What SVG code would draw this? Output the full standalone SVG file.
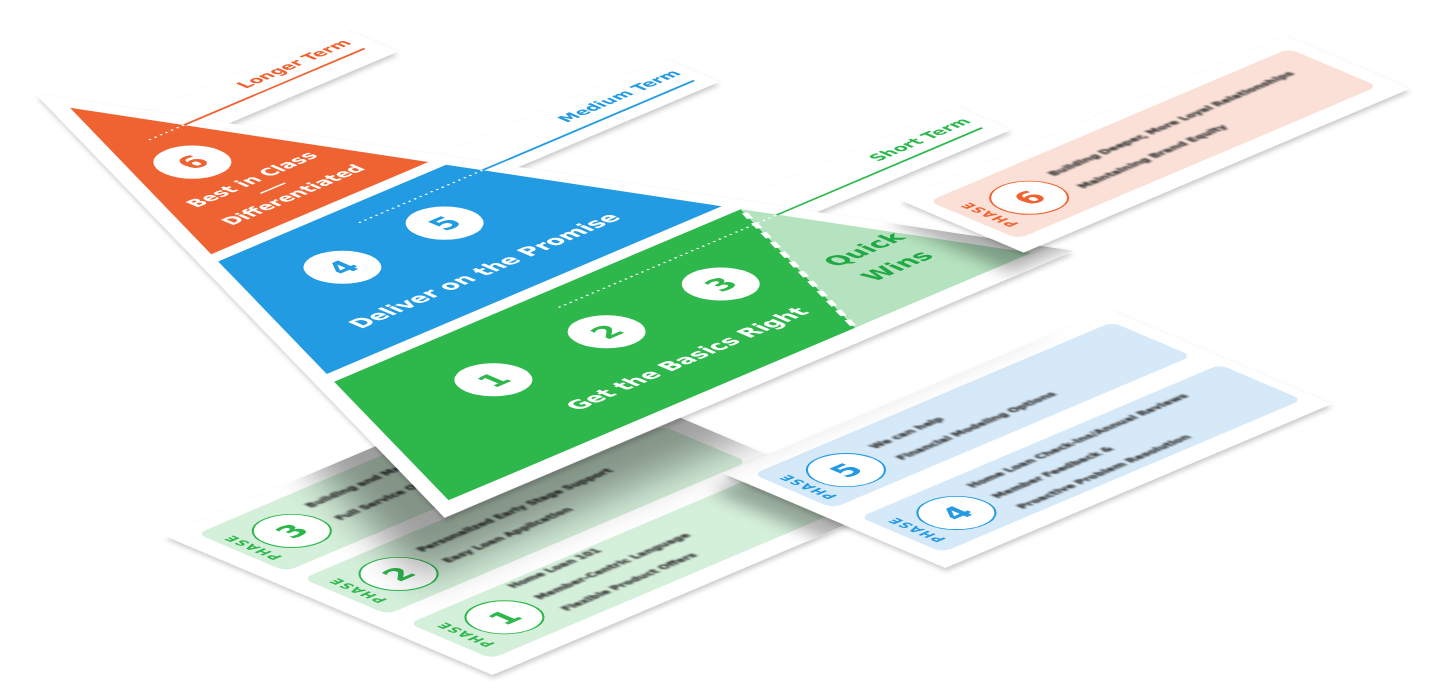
<svg xmlns="http://www.w3.org/2000/svg" width="1440" height="700" viewBox="0 0 1440 700">
<defs>
<style>
.f{font-family:"DejaVu Sans","Liberation Sans",sans-serif;font-weight:700}
.w{fill:#fff}
.lbl{font-size:16.5px;text-anchor:end}
.big{font-size:22px;text-anchor:middle;fill:#fff}
.mid{font-size:18.5px;text-anchor:middle;fill:#fff}
.num{font-size:30px;text-anchor:middle}
.ph{font-size:13.5px;letter-spacing:1.2px;text-anchor:middle}
.bl{font-size:11px;fill:#3c3c3c;stroke:#3c3c3c;stroke-width:0.5}
.dot{stroke:#fff;stroke-width:2;stroke-dasharray:2 4;fill:none}
.ring{fill:#fff;stroke-width:1.6}
</style>
<filter id="ds" filterUnits="userSpaceOnUse" x="0" y="0" width="1440" height="700">
<feDropShadow dx="1" dy="3" stdDeviation="2.5" flood-color="#000" flood-opacity="0.22"/>
</filter>
<filter id="bigBlur" filterUnits="userSpaceOnUse" x="0" y="0" width="1440" height="700">
<feGaussianBlur stdDeviation="20"/>
</filter>
<filter id="midBlur" filterUnits="userSpaceOnUse" x="0" y="0" width="1440" height="700">
<feGaussianBlur stdDeviation="8"/>
</filter>
<filter id="tb" x="-5%" y="-50%" width="110%" height="200%">
<feGaussianBlur stdDeviation="1.2"/>
</filter>
<clipPath id="clipPhases">
<polygon points="164.8,535.6 561.5,367.3 889.2,506.3 492.5,674.7"/>
<polygon points="723.5,473.5 1109.2,309.8 1331,404 945.4,567.7"/>
</clipPath>
<clipPath id="clipP13">
<polygon points="164.8,535.6 561.5,367.3 889.2,506.3 492.5,674.7"/>
</clipPath>
<clipPath id="clipMain">
<polygon points="35.9,94.2 1073.3,250.8 444.6,517.7"/>
</clipPath>
</defs>
<rect width="1440" height="700" fill="#fff"/>

<!-- label strips -->
<g id="label-longer" filter="url(#ds)">
<g transform="matrix(0.9205,-0.3907,0.9205,0.3907,0,0)">
<polygon points="-80,224 150,224 150,282 -80,282" fill="#fff"/>
<text class="f lbl" x="136" y="247" fill="#EF6330">Longer Term</text>
</g>
</g>
<g id="label-medium" filter="url(#ds)">
<g transform="matrix(0.9205,-0.3907,0.9205,0.3907,0,0)">
<polygon points="-100,437 286,437 286,495 -100,495" fill="#fff"/>
<text class="f lbl" x="276" y="465" fill="#249BE2">Medium Term</text>
</g>
</g>
<g id="label-short" filter="url(#ds)">
<g transform="matrix(0.9205,-0.3907,0.9205,0.3907,0,0)">
<polygon points="0,657 383,657 383,715 0,715" fill="#fff"/>
<text class="f lbl" x="372" y="684" fill="#2EB84C">Short Term</text>
</g>
</g>

<!-- phases 1-3 -->
<g id="phases-1-3" filter="url(#ds)">
<g transform="matrix(0.9205,-0.3907,0.9205,0.3907,0,0)">
<rect x="-596" y="775" width="431" height="356" fill="#fff"/>
<g id="phase-3">
<rect x="-576" y="790" width="391" height="97" rx="9" fill="#D4EFDA"/>
<text class="f ph" transform="translate(-563,838) rotate(-90)" y="4.5" fill="#2EB84C">PHASE</text>
<circle class="ring" cx="-521" cy="838" r="30" stroke="#2EB84C"/>
<text class="f num" x="-521" y="849" fill="#2EB84C">3</text>
<g filter="url(#tb)"><text class="f bl" x="-481" y="819">Building and Maintaining Trust</text><text class="f bl" x="-481" y="851">Full Service Offering</text></g>
</g>
<g id="phase-2">
<rect x="-576" y="905" width="391" height="92" rx="9" fill="#D4EFDA"/>
<text class="f ph" transform="translate(-561,950) rotate(-90)" y="4.5" fill="#2EB84C">PHASE</text>
<circle class="ring" cx="-518" cy="951" r="30" stroke="#2EB84C"/>
<text class="f num" x="-518" y="962" fill="#2EB84C">2</text>
<g filter="url(#tb)"><text class="f bl" x="-477" y="936">Personalized Early Stage Support</text><text class="f bl" x="-477" y="964">Easy Loan Application</text></g>
</g>
<g id="phase-1">
<rect x="-576" y="1020" width="391" height="90" rx="9" fill="#D4EFDA"/>
<text class="f ph" transform="translate(-559,1065) rotate(-90)" y="4.5" fill="#2EB84C">PHASE</text>
<circle class="ring" cx="-516" cy="1064" r="30" stroke="#2EB84C"/>
<text class="f num" x="-516" y="1075" fill="#2EB84C">1</text>
<g filter="url(#tb)"><text class="f bl" x="-474" y="1032">Home Loan 101</text><text class="f bl" x="-474" y="1061">Member-Centric Language</text><text class="f bl" x="-474" y="1090">Flexible Product Offers</text></g>
</g>
</g>
</g>

<!-- shadow of phases 4-5 card on phases 1-3 -->
<g clip-path="url(#clipP13)">
<g filter="url(#midBlur)" opacity="0.3">
<polygon transform="translate(-12,18)" points="723.5,473.5 1109.2,309.8 1331,404 945.4,567.7" fill="#000"/>
</g>
</g>

<!-- phases 4-5 -->
<g id="phases-4-5" filter="url(#ds)">
<g transform="matrix(0.9205,-0.3907,0.9205,0.3907,0,0)">
<rect x="-213" y="999" width="419" height="241" fill="#fff"/>
<g id="phase-5">
<rect x="-198" y="1016" width="390" height="87" rx="9" fill="#D5E9F8"/>
<text class="f ph" transform="translate(-184,1062) rotate(-90)" y="4.5" fill="#249BE2">PHASE</text>
<circle class="ring" cx="-142" cy="1061" r="30" stroke="#249BE2"/>
<text class="f num" x="-142" y="1072" fill="#249BE2">5</text>
<g filter="url(#tb)"><text class="f bl" x="-99" y="1050">We can help</text><text class="f bl" x="-99" y="1079">Financial Modeling Options</text></g>
</g>
<g id="phase-4">
<rect x="-195" y="1129" width="391" height="90" rx="9" fill="#D5E9F8"/>
<text class="f ph" transform="translate(-180,1176) rotate(-90)" y="4.5" fill="#249BE2">PHASE</text>
<circle class="ring" cx="-137" cy="1176" r="30" stroke="#249BE2"/>
<text class="f num" x="-137" y="1187" fill="#249BE2">4</text>
<g filter="url(#tb)"><text class="f bl" x="-96" y="1153">Home Loan Check-ins/Annual Reviews</text><text class="f bl" x="-96" y="1180">Member Feedback &amp;</text><text class="f bl" x="-96" y="1207">Proactive Problem Resolution</text></g>
</g>
</g>
</g>

<!-- shadow of pyramid card on the phase cards -->
<g clip-path="url(#clipPhases)">
<g filter="url(#bigBlur)" opacity="0.38">
<polygon transform="translate(-25,60)" points="35.9,94.2 1073.3,250.8 444.6,517.7" fill="#000"/>
</g>
</g>

<!-- pyramid -->
<g id="pyramid" filter="url(#ds)">
<g transform="matrix(0.9205,-0.3907,0.9205,0.3907,0,0)">
<polygon points="-101,140 262,904 -421,904" fill="#fff"/>
<g id="level-longer">
<polygon points="-100,176 25.4,440 -210.6,440" fill="#EF6330"/>
<circle cx="-103" cy="312" r="30" fill="#fff"/>
<text class="f num" x="-103" y="323" fill="#EF6330">6</text>
<text class="f mid" x="-93" y="373">Best in Class</text>
<line x1="-106" y1="389" x2="-79" y2="389" stroke="#fff" stroke-width="2"/>
<text class="f mid" x="-90" y="415">Differentiated</text>
</g>
<g id="level-medium">
<polygon points="-216,453 31.6,453 128,656 -301,656" fill="#249BE2"/>
<circle cx="-156" cy="528" r="30" fill="#fff"/>
<text class="f num" x="-156" y="539" fill="#249BE2">4</text>
<circle cx="-44" cy="527" r="30" fill="#fff"/>
<text class="f num" x="-44" y="538" fill="#249BE2">5</text>
<text class="f big" x="-83" y="617">Deliver on the Promise</text>
</g>
<g id="level-short">
<polygon points="-307,670 134.7,670 45,884 -396.7,884" fill="#2EB84C"/>
<circle cx="-218" cy="754" r="30" fill="#fff"/>
<text class="f num" x="-218" y="765" fill="#2EB84C">1</text>
<circle cx="-95" cy="754" r="30" fill="#fff"/>
<text class="f num" x="-95" y="765" fill="#2EB84C">2</text>
<circle cx="28" cy="755" r="30" fill="#fff"/>
<text class="f num" x="28" y="766" fill="#2EB84C">3</text>
<text class="f big" x="-86" y="840">Get the Basics Right</text>
</g>
<g id="quick-wins">
<polygon points="134.7,670 236.3,884 45,884" fill="#B5E3BF"/>
<line x1="132" y1="677" x2="45" y2="884" stroke="#fff" stroke-width="5" stroke-dasharray="11 8"/>
<text class="f" x="150" y="797" font-size="24" text-anchor="middle" fill="#22A845">Quick</text>
<text class="f" x="147" y="836" font-size="24" text-anchor="middle" fill="#22A845">Wins</text>
</g>
</g>
</g>

<!-- connectors: dotted guide + solid leader to each term label -->
<g id="connectors" transform="matrix(0.9205,-0.3907,0.9205,0.3907,0,0)">
<line class="dot" x1="-98" y1="260" x2="-60" y2="260"/>
<line x1="-60" y1="260" x2="136" y2="260" stroke="#EF6330" stroke-width="2.5"/>
<line class="dot" x1="-90" y1="480" x2="44" y2="480"/>
<line x1="44" y1="480" x2="274" y2="480" stroke="#249BE2" stroke-width="2.5"/>
<line class="dot" x1="-90" y1="697" x2="147" y2="697"/>
<line x1="147" y1="697" x2="370" y2="697" stroke="#2EB84C" stroke-width="2.5"/>
</g>

<!-- shadow of phase 6 card on pyramid -->
<g clip-path="url(#clipMain)">
<g filter="url(#midBlur)" opacity="0.3">
<polygon transform="translate(-12,20)" points="900.2,200 1286,36.3 1409.3,88.7 1023.6,252.4" fill="#000"/>
</g>
</g>

<!-- phase 6 -->
<g id="phase-6-card" filter="url(#ds)">
<g transform="matrix(0.9205,-0.3907,0.9205,0.3907,0,0)">
<rect x="233" y="745" width="419" height="134" fill="#fff"/>
<g id="phase-6">
<rect x="247" y="762" width="391" height="97" rx="9" fill="#FBE0D7"/>
<text class="f ph" transform="translate(263,812) rotate(-90)" y="4.5" fill="#EF6330">PHASE</text>
<circle class="ring" cx="306" cy="812" r="30" stroke="#EF6330"/>
<text class="f num" x="306" y="823" fill="#EF6330">6</text>
<g filter="url(#tb)"><text class="f bl" x="347" y="798">Building Deeper, More Loyal Relationships</text><text class="f bl" x="347" y="830">Maintaining Brand Equity</text></g>
</g>
</g>
</g>
</svg>
